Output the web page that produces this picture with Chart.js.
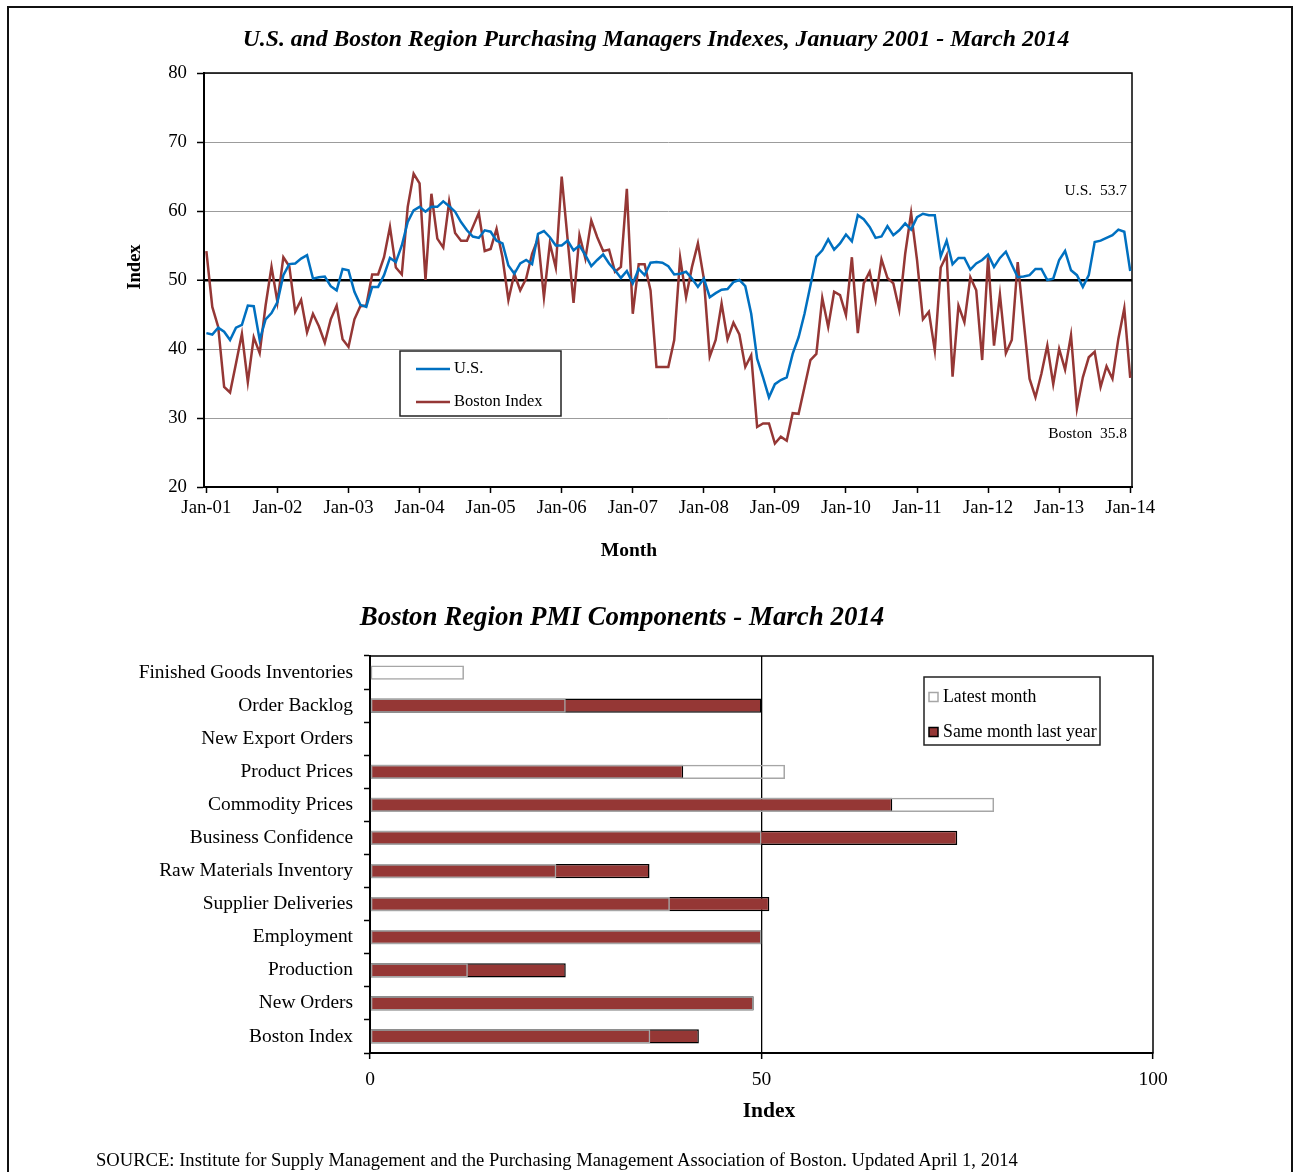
<!DOCTYPE html>
<html>
<head>
<meta charset="utf-8">
<title>U.S. and Boston Region Purchasing Managers Indexes</title>
<script src="https://cdn.jsdelivr.net/npm/chart.js@4.4.1/dist/chart.umd.min.js"></script>
<style>
  html, body { margin: 0; padding: 0; background: #fff; }
  body { width: 1296px; height: 1172px; position: relative; overflow: hidden;
         font-family: "Liberation Serif", "Times New Roman", serif; }
  #frame { position: absolute; left: 7px; top: 6px; width: 1286px; height: 1220px;
           border: 2px solid #111; box-sizing: border-box; pointer-events: none; }
  #pmiLine { position: absolute; left: 0; top: 0; }
  #pmiBars { position: absolute; left: 0; top: 580px; }
  #source { position: absolute; left: 96px; top: 1149px; font-size: 18.6px; line-height: 22px;
            color: #000; white-space: nowrap; }
</style>
</head>
<body>
<div id="frame"></div>
<canvas id="pmiLine" width="1296" height="580"></canvas>
<canvas id="pmiBars" width="1296" height="592"></canvas>
<div id="source">SOURCE: Institute for Supply Management and the Purchasing Management Association of Boston. Updated April 1, 2014</div>

<script>
// ---------- Monthly index readings, January 2001 onward ----------
const usPMI = [
  42.3, 42.1, 43.1, 42.5, 41.3, 43.1, 43.5, 46.3, 46.2, 41.3, 44.3, 45.2,
  46.8, 50.7, 52.3, 52.4, 53.1, 53.6, 50.2, 50.4, 50.5, 49.1, 48.5, 51.6,
  51.4, 48.3, 46.4, 46.1, 49.0, 49.0, 50.7, 53.2, 52.6, 55.0, 58.4, 60.1,
  60.6, 59.9, 60.6, 60.6, 61.4, 60.7, 59.9, 58.4, 57.2, 56.3, 56.1, 57.2,
  57.0, 55.7, 55.3, 52.1, 50.9, 52.4, 52.9, 52.3, 56.7, 57.1, 56.2, 55.0,
  55.0, 55.7, 54.3, 55.0, 53.6, 52.0, 52.9, 53.7, 52.4, 51.4, 50.3, 51.3,
  49.5, 51.6, 50.7, 52.5, 52.6, 52.5, 52.0, 50.8, 50.9, 51.2, 50.2, 49.0,
  50.2, 47.5, 48.1, 48.6, 48.7, 49.7, 50.0, 49.1, 45.1, 38.6, 35.9, 33.0,
  34.9, 35.5, 35.9, 39.3, 41.7, 45.1, 49.2, 53.4, 54.3, 55.9, 54.4, 55.3,
  56.6, 55.6, 59.4, 58.8, 57.7, 56.1, 56.3, 57.8, 56.5, 57.2, 58.2, 57.3,
  59.1, 59.6, 59.4, 59.4, 53.4, 55.7, 52.3, 53.2, 53.2, 51.5, 52.4, 52.9,
  53.7, 51.9, 53.2, 54.1, 52.2, 50.4, 50.5, 50.7, 51.6, 51.6, 50.0, 50.2,
  52.9, 54.2, 51.4, 50.7, 49.0, 50.7, 55.5, 55.7, 56.1, 56.5, 57.3, 57.0,
  51.3
];

const bostonIndex = [
  54.2, 46.1, 43.2, 34.5, 33.7, 37.9, 42.2, 35.2, 41.7, 39.4, 46.3, 51.9,
  46.8, 53.3, 52.0, 45.4, 47.1, 42.4, 45.1, 43.3, 40.9, 44.3, 46.3, 41.4,
  40.3, 44.3, 46.2, 46.3, 50.8, 50.8, 53.3, 57.7, 51.8, 50.8, 60.6, 65.4,
  64.0, 50.0, 62.5, 56.0, 54.7, 61.4, 56.8, 55.7, 55.7, 57.7, 59.7, 54.2,
  54.5, 57.4, 53.3, 47.1, 50.9, 48.5, 50.2, 53.8, 56.0, 47.5, 55.3, 51.8,
  65.0, 55.9, 46.7, 56.5, 53.1, 58.6, 56.2, 54.2, 54.4, 51.2, 51.9, 63.2,
  45.1, 52.3, 52.3, 48.5, 37.4, 37.4, 37.4, 41.3, 53.2, 47.5, 51.9, 55.3,
  50.2, 38.9, 41.3, 46.6, 41.4, 43.8, 42.1, 37.4, 39.1, 28.7, 29.2, 29.2,
  26.3, 27.3, 26.7, 30.7, 30.6, 34.5, 38.4, 39.3, 47.4, 43.2, 48.3, 47.8,
  44.9, 53.3, 42.3, 49.5, 51.2, 47.1, 53.0, 50.3, 49.5, 45.7, 53.8, 59.7,
  52.9, 44.3, 45.4, 39.8, 51.8, 53.6, 36.0, 46.3, 43.9, 50.4, 48.5, 38.4,
  53.3, 40.5, 47.9, 39.4, 41.3, 52.6, 44.1, 35.7, 33.0, 36.4, 40.5, 34.9,
  40.0, 37.0, 42.0, 31.4, 35.9, 38.8, 39.6, 34.5, 37.5, 35.7, 41.5, 45.9,
  35.8
];

// January tick labels on the month axis
const yearTickLabels = ['Jan-01', 'Jan-02', 'Jan-03', 'Jan-04', 'Jan-05', 'Jan-06', 'Jan-07',
                        'Jan-08', 'Jan-09', 'Jan-10', 'Jan-11', 'Jan-12', 'Jan-13', 'Jan-14'];
const indexTicks = [20, 30, 40, 50, 60, 70, 80];

// Latest readings printed at the right edge of the plot
const latestReadingLabels = ['U.S.  53.7', 'Boston  35.8'];

// ---------- Boston PMI components, March 2014 ----------
const components = ['Finished Goods Inventories', 'Order Backlog', 'New Export Orders', 'Product Prices',
  'Commodity Prices', 'Business Confidence', 'Raw Materials Inventory', 'Supplier Deliveries',
  'Employment', 'Production', 'New Orders', 'Boston Index'];
const latestMonth       = [12, 25, null, 53, 79.7, 50, 23.8, 38.3, 50, 12.5, 49, 35.8];
const sameMonthLastYear = [null, 50, null, 40, 66.7, 75, 35.7, 51, 50, 25, 49, 42];
const componentTicks = [0, 50, 100];

// ---------- shared styling ----------
const SERIF = '"Liberation Serif", "Times New Roman", Times, serif';
Chart.defaults.font.family = SERIF;
Chart.defaults.color = '#000';
const US_BLUE = '#0070C0';
const BOSTON_RED = '#953735';

// Draws free-standing text items (titles, axis titles, notes) at fixed canvas positions
const textLayer = {
  id: 'textLayer',
  afterDraw(chart, args, opts) {
    const ctx = chart.ctx;
    (opts.items || []).forEach(t => {
      ctx.save();
      ctx.font = t.font;
      ctx.fillStyle = t.color || '#000';
      ctx.textAlign = t.align || 'center';
      ctx.textBaseline = 'middle';
      ctx.translate(t.x, t.y);
      if (t.rotate) ctx.rotate(t.rotate);
      ctx.fillText(t.text, 0, 0);
      ctx.restore();
    });
  }
};

// Thin box around the plotting area
const plotBox = {
  id: 'plotBox',
  beforeDatasetsDraw(chart, args, opts) {
    const a = chart.chartArea, ctx = chart.ctx;
    ctx.save();
    ctx.strokeStyle = opts.color || '#000';
    ctx.lineWidth = opts.width || 1.5;
    ctx.strokeRect(a.left, a.top, a.right - a.left, a.bottom - a.top);
    ctx.restore();
  }
};

// Boxed legend placed inside the plot
const boxedLegend = {
  id: 'boxedLegend',
  afterDraw(chart, args, o) {
    const ctx = chart.ctx;
    ctx.save();
    ctx.fillStyle = '#fff';
    ctx.fillRect(o.x, o.y, o.w, o.h);
    ctx.strokeStyle = '#222';
    ctx.lineWidth = 1.5;
    ctx.strokeRect(o.x, o.y, o.w, o.h);
    ctx.font = o.font;
    ctx.textAlign = 'left';
    ctx.textBaseline = 'middle';
    chart.data.datasets.forEach((ds, i) => {
      const cy = o.y + o.rowY[i];
      if (o.kind === 'line') {
        ctx.strokeStyle = ds.borderColor;
        ctx.lineWidth = 2.5;
        ctx.beginPath();
        ctx.moveTo(o.x + o.swatchX, cy);
        ctx.lineTo(o.x + o.swatchX + o.swatchW, cy);
        ctx.stroke();
      } else {
        const s = o.swatchW;
        ctx.fillStyle = ds.legendFill;
        ctx.fillRect(o.x + o.swatchX, cy - s / 2, s, s);
        ctx.strokeStyle = ds.borderColor;
        ctx.lineWidth = 1.5;
        ctx.strokeRect(o.x + o.swatchX, cy - s / 2, s, s);
      }
      ctx.fillStyle = '#000';
      ctx.fillText(ds.label, o.x + o.textX, cy);
    });
    ctx.restore();
  }
};

// ---------- Line chart: monthly indexes ----------
new Chart(document.getElementById('pmiLine'), {
  type: 'line',
  data: {
    datasets: [
      { label: 'U.S.', data: usPMI.map((v, i) => ({ x: i, y: v })),
        borderColor: US_BLUE, borderWidth: 2.5, pointRadius: 0, tension: 0 },
      { label: 'Boston Index', data: bostonIndex.map((v, i) => ({ x: i, y: v })),
        borderColor: BOSTON_RED, borderWidth: 2.5, pointRadius: 0, tension: 0 }
    ]
  },
  options: {
    responsive: false,
    animation: false,
    layout: { padding: { left: 100, right: 164, top: 73, bottom: 33 } },
    plugins: {
      legend: { display: false },
      tooltip: { enabled: false },
      plotBox: { color: '#000', width: 1.5 },
      boxedLegend: { kind: 'line', x: 400, y: 351, w: 161, h: 65, rowY: [18, 51],
                     swatchX: 16, swatchW: 34, textX: 54, font: '16.5px ' + SERIF },
      textLayer: { items: [
        { text: 'U.S. and Boston Region Purchasing Managers Indexes, January 2001 - March 2014',
          x: 656, y: 40, font: 'italic bold 23.7px ' + SERIF },
        { text: 'Index', x: 135, y: 267, rotate: -Math.PI / 2, font: 'bold 18.5px ' + SERIF },
        { text: 'Month', x: 629, y: 551, font: 'bold 19.5px ' + SERIF },
        { text: latestReadingLabels[0], x: 1127, y: 191, align: 'right', font: '15.5px ' + SERIF },
        { text: latestReadingLabels[1], x: 1127, y: 434, align: 'right', font: '15.5px ' + SERIF }
      ] }
    },
    scales: {
      x: {
        type: 'linear',
        min: -0.4, max: 156.3,
        afterFit(s) { s.height = 60; },
        afterBuildTicks(s) { s.ticks = yearTickLabels.map((_, k) => ({ value: k * 12 })); },
        ticks: { autoSkip: false, maxRotation: 0, padding: 4, font: { size: 18.8 },
                 callback: (v, k) => yearTickLabels[k] },
        grid: { drawOnChartArea: false, drawTicks: true, tickLength: 6, tickColor: '#000', tickWidth: 1.5 },
        border: { display: true, color: '#000', width: 2 }
      },
      y: {
        min: 20, max: 80,
        afterFit(s) { s.width = 104; },
        afterBuildTicks(s) { s.ticks = indexTicks.map(v => ({ value: v })); },
        ticks: { padding: 10, font: { size: 18.8 } },
        grid: {
          color: c => (c.tick && c.tick.value === 50) ? '#000' : '#9c9c9c',
          lineWidth: c => (c.tick && c.tick.value === 50) ? 2.5 : 1,
          tickColor: '#000', tickLength: 7, tickWidth: 1.5
        },
        border: { display: true, color: '#000', width: 2 }
      }
    }
  },
  plugins: [plotBox, boxedLegend, textLayer]
});

// ---------- Bar chart: PMI components ----------
new Chart(document.getElementById('pmiBars'), {
  type: 'bar',
  data: {
    labels: components,
    datasets: [
      { label: 'Latest month', data: latestMonth, order: 0,
        backgroundColor: 'rgba(255,255,255,0)', legendFill: '#fff',
        borderColor: '#a6a6a6', borderWidth: 1.5, borderSkipped: false },
      { label: 'Same month last year', data: sameMonthLastYear, order: 1,
        backgroundColor: BOSTON_RED, legendFill: BOSTON_RED,
        borderColor: '#000', borderWidth: 1.5, borderSkipped: false }
    ]
  },
  options: {
    indexAxis: 'y',
    responsive: false,
    animation: false,
    grouped: false,
    categoryPercentage: 1,
    barPercentage: 0.43,
    layout: { padding: { left: 120, right: 143, top: 76, bottom: 59 } },
    plugins: {
      legend: { display: false },
      tooltip: { enabled: false },
      plotBox: { color: '#000', width: 1.5 },
      boxedLegend: { kind: 'box', x: 924, y: 97, w: 176, h: 68, rowY: [20, 55],
                     swatchX: 5, swatchW: 9, textX: 19, font: '17.8px ' + SERIF },
      textLayer: { items: [
        { text: 'Boston Region PMI Components - March 2014', x: 622, y: 38,
          font: 'italic bold 26.9px ' + SERIF },
        { text: 'Index', x: 769, y: 531, font: 'bold 21.5px ' + SERIF }
      ] }
    },
    scales: {
      x: {
        min: 0, max: 100,
        afterFit(s) { s.height = 60; },
        afterBuildTicks(s) { s.ticks = componentTicks.map(v => ({ value: v })); },
        ticks: { padding: 9, maxRotation: 0, font: { size: 19.5 } },
        grid: {
          color: c => (c.tick && c.tick.value === 50) ? '#000' : 'rgba(0,0,0,0)',
          lineWidth: 1.3,
          tickColor: '#000', tickLength: 6, tickWidth: 1.5
        },
        border: { display: true, color: '#000', width: 2 }
      },
      y: {
        afterFit(s) { s.width = 250; },
        ticks: { padding: 11, autoSkip: false, font: { size: 19.4 } },
        grid: { drawOnChartArea: false, tickColor: '#000', tickLength: 6, tickWidth: 1.5 },
        border: { display: true, color: '#000', width: 2 }
      }
    }
  },
  plugins: [plotBox, boxedLegend, textLayer]
});
</script>
</body>
</html>
